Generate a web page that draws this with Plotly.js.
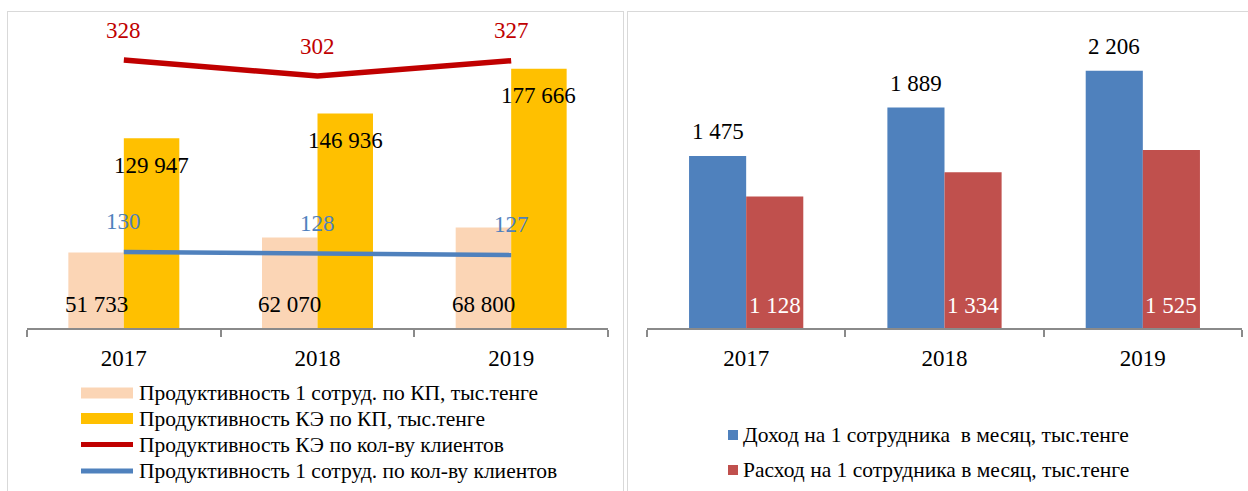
<!DOCTYPE html>
<html>
<head>
<meta charset="utf-8">
<script src="https://cdn.plot.ly/plotly-3.0.1.min.js"></script>
<style>
  html, body { margin: 0; padding: 0; background: #fff; overflow: hidden; width: 1248px; height: 491px; }
  #left { position: absolute; left: 7px; top: 11px; width: 617px; height: 500px; box-sizing: border-box; border: 1px solid #d9d9d9; }
  #right { position: absolute; left: 627px; top: 11px; width: 621px; height: 500px; box-sizing: border-box; border: 1px solid #d9d9d9; border-right: none; }
</style>
</head>
<body>
<div id="left"></div>
<div id="right"></div>
<script>
// ---- data ----
const years = ['2017', '2018', '2019'];
const prodEmpKP = [51733, 62070, 68800];        // Продуктивность 1 сотруд. по КП
const prodKeKP = [129947, 146936, 177666];      // Продуктивность КЭ по КП
const prodKeClients = [328, 302, 327];          // Продуктивность КЭ по кол-ву клиентов
const prodEmpClients = [130, 128, 127];         // Продуктивность 1 сотруд. по кол-ву клиентов
const income = [1475, 1889, 2206];              // Доход на 1 сотрудника в месяц
const expense = [1128, 1334, 1525];             // Расход на 1 сотрудника в месяц
const leftNames = [
  'Продуктивность 1 сотруд. по КП, тыс.тенге',
  'Продуктивность КЭ по КП, тыс.тенге',
  'Продуктивность КЭ по кол-ву клиентов',
  'Продуктивность 1 сотруд. по кол-ву клиентов'
];
const rightNames = [
  'Доход на 1 сотрудника  в месяц, тыс.тенге',
  'Расход на 1 сотрудника в месяц, тыс.тенге'
];

// ---- style ----
const FONT = 'Liberation Serif, Times New Roman, serif';
const C_PEACH = '#FBD5B5', C_ORANGE = '#FFC000', C_RED = '#C00000', C_BLUE = '#4F81BD';
const C_INC = '#4F81BD', C_EXP = '#C0504D';
const fmt = v => String(v).replace(/\B(?=(\d{3})+(?!\d))/g, ' ');
const idx = years.map((_, i) => i);

const W = 615, H = 498;
const M = { l: 19, r: 15, t: 8, b: 182 };
const PW = W - M.l - M.r, PH = H - M.t - M.b;
const px2x = (px, m, pw) => (px - m.l) / pw;
const px2y = (py, m, ph) => (m.t + ph - py) / ph;
const bargap = 0.427;
const off = (1 - bargap) / 4;

function xaxisDef() {
  return {
    type: 'category', range: [-0.5, 2.5], tickson: 'boundaries',
    categoryorder: 'array', categoryarray: years,
    ticks: 'outside', ticklen: 7, tickcolor: '#8a8a8a', tickwidth: 2,
    showline: true, linecolor: '#8a8a8a', linewidth: 2,
    showgrid: false, zeroline: false, fixedrange: true,
    tickfont: { family: FONT, size: 23, color: '#000' },
    ticklabelstandoff: 8
  };
}

// ---------- LEFT CHART ----------
const leftTraces = [
  { type: 'bar', x: years, y: prodEmpKP, marker: { color: C_PEACH }, showlegend: false, hoverinfo: 'skip' },
  { type: 'bar', x: years, y: prodKeKP, marker: { color: C_ORANGE }, showlegend: false, hoverinfo: 'skip' },
  { type: 'scatter', mode: 'lines', x: years, y: prodKeClients, yaxis: 'y2', line: { color: C_RED, width: 5.5 }, showlegend: false, hoverinfo: 'skip' },
  { type: 'scatter', mode: 'lines', x: years, y: prodEmpClients, yaxis: 'y3', line: { color: C_BLUE, width: 4.5 }, showlegend: false, hoverinfo: 'skip' }
];

const ann = [];
const lab = (x, y, yref, text, color, yshift) => ({
  x, y, xref: 'x', yref, text, showarrow: false,
  font: { family: FONT, size: 23, color }, xanchor: 'center', yanchor: 'middle', yshift
});
idx.forEach(i => {
  ann.push(lab(i - off, 0, 'y', fmt(prodEmpKP[i]), '#000', 24));
  ann.push(lab(i + off, prodKeKP[i], 'y', fmt(prodKeKP[i]), '#000', -27));
  ann.push(lab(i, prodKeClients[i], 'y2', fmt(prodKeClients[i]), C_RED, 30));
  ann.push(lab(i, prodEmpClients[i], 'y3', fmt(prodEmpClients[i]), C_BLUE, 31));
});

// custom legend (left)
const lShapes = [];
const rowY = [381, 406.5, 432.5, 459];
const legColors = [C_PEACH, C_ORANGE, C_RED, C_BLUE];
leftNames.forEach((nm, k) => {
  const cy = rowY[k];
  if (k < 2) {
    lShapes.push({ type: 'rect', xref: 'paper', yref: 'paper',
      x0: px2x(73, M, PW), x1: px2x(125, M, PW), y0: px2y(cy - 5.5, M, PH), y1: px2y(cy + 5.5, M, PH),
      fillcolor: legColors[k], line: { width: 0 } });
  } else {
    lShapes.push({ type: 'line', xref: 'paper', yref: 'paper',
      x0: px2x(73, M, PW), x1: px2x(125, M, PW), y0: px2y(cy, M, PH), y1: px2y(cy, M, PH),
      line: { color: legColors[k], width: 5 } });
  }
  ann.push({ xref: 'paper', yref: 'paper', x: px2x(129, M, PW), y: px2y(cy, M, PH), text: nm,
    showarrow: false, xanchor: 'left', yanchor: 'middle',
    font: { family: FONT, size: 21.5, color: '#000' } });
});

const leftLayout = {
  width: W, height: H, margin: M, paper_bgcolor: '#fff', plot_bgcolor: '#fff',
  barmode: 'group', bargap: bargap, bargroupgap: 0, showlegend: false,
  xaxis: xaxisDef(),
  yaxis: { range: [0, 211000], visible: false, fixedrange: true },
  yaxis2: { range: [-107.6, 393.2], overlaying: 'y', visible: false, fixedrange: true },
  yaxis3: { range: [54, 362], overlaying: 'y', visible: false, fixedrange: true },
  annotations: ann, shapes: lShapes
};
Plotly.newPlot('left', leftTraces, leftLayout, { staticPlot: true, displayModeBar: false });

// ---------- RIGHT CHART ----------
const RW = 620, RH = 499;
const RM = { l: 19, r: 6, t: 8, b: 183 };
const RPW = RW - RM.l - RM.r, RPH = RH - RM.t - RM.b;
const rbargap = 0.424;
const roff = (1 - rbargap) / 4;
const rightTraces = [
  { type: 'bar', x: years, y: income, marker: { color: C_INC }, showlegend: false, hoverinfo: 'skip' },
  { type: 'bar', x: years, y: expense, marker: { color: C_EXP }, showlegend: false, hoverinfo: 'skip' }
];
const rAnn = [];
idx.forEach(i => {
  rAnn.push(lab(i - roff, income[i], 'y', fmt(income[i]), '#000', 24));
  rAnn.push(lab(i + roff, 0, 'y', fmt(expense[i]), '#fff', 23));
});
const rShapes = [];
const rRowY = [423, 458];
[C_INC, C_EXP].forEach((c, k) => {
  const cy = rRowY[k];
  rShapes.push({ type: 'rect', xref: 'paper', yref: 'paper',
    x0: px2x(100, RM, RPW), x1: px2x(110, RM, RPW), y0: px2y(cy - 5, RM, RPH), y1: px2y(cy + 5, RM, RPH),
    fillcolor: c, line: { width: 0 } });
  rAnn.push({ xref: 'paper', yref: 'paper', x: px2x(113, RM, RPW), y: px2y(cy, RM, RPH), text: rightNames[k],
    showarrow: false, xanchor: 'left', yanchor: 'middle',
    font: { family: FONT, size: 21.5, color: '#000' } });
});
const rightLayout = {
  width: RW, height: RH, margin: RM, paper_bgcolor: '#fff', plot_bgcolor: '#fff',
  barmode: 'group', bargap: rbargap, bargroupgap: 0, showlegend: false,
  xaxis: xaxisDef(),
  yaxis: { range: [0, 2640], visible: false, fixedrange: true },
  annotations: rAnn, shapes: rShapes
};
Plotly.newPlot('right', rightTraces, rightLayout, { staticPlot: true, displayModeBar: false });
</script>
</body>
</html>
